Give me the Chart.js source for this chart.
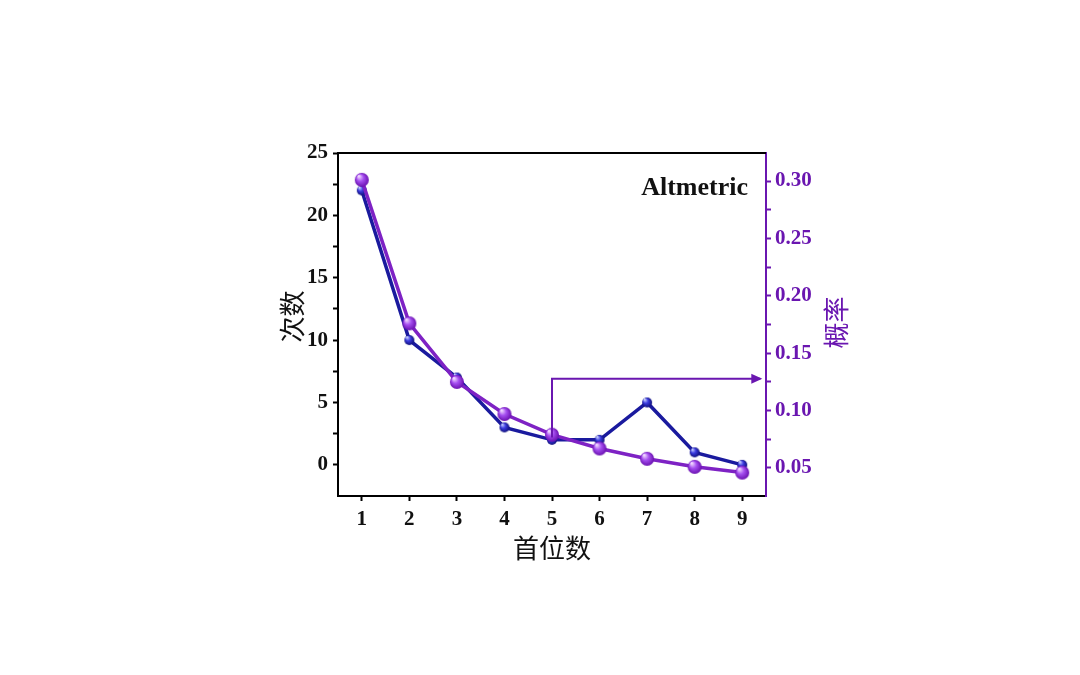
<!DOCTYPE html>
<html>
<head>
<meta charset="utf-8">
<script src="https://cdn.jsdelivr.net/npm/chart.js@4.4.1/dist/chart.umd.min.js"></script>
<style>
    html, body { margin: 0; padding: 0; background: #fff; }
    #wrap { width: 1080px; height: 675px; position: relative; }
</style>
</head>
<body>
<div id="wrap"><canvas id="benford-chart"></canvas></div>
<script>
// data
const digits = [1, 2, 3, 4, 5, 6, 7, 8, 9];
const counts = [22, 10, 7, 3, 2, 2, 5, 1, 0];
const probs = [0.301, 0.176, 0.125, 0.097, 0.079, 0.067, 0.058, 0.051, 0.046];
const yTicks = [0, 2.5, 5, 7.5, 10, 12.5, 15, 17.5, 20, 22.5, 25];
const y2Ticks = [0.05, 0.075, 0.10, 0.125, 0.15, 0.175, 0.20, 0.225, 0.25, 0.275, 0.30];
// arrow pointing at the right axis, in (digit, count) units
const arrowPath = [[5, 2.2], [5, 6.9], [9.38, 6.9]];
const panelLabel = 'Altmetric';
const xTitle = '首位数';
const yTitle = '次数';
const y2Title = '概率';

const BLUE = '#1a1a9e';
const PURPLE = '#7e22c4';
const PURPLE_AXIS = '#6a16b0';
const serif = '"Liberation Serif", "Times New Roman", serif';
const cjk = '"Noto Sans CJK SC", sans-serif';

function sphere(r, light, mid, dark) {
    const c = document.createElement('canvas');
    c.width = c.height = r * 2 + 2;
    const g = c.getContext('2d');
    const grad = g.createRadialGradient(r * 0.7, r * 0.6, r * 0.1, r + 1, r + 1, r);
    grad.addColorStop(0, light);
    grad.addColorStop(0.45, mid);
    grad.addColorStop(1, dark);
    g.fillStyle = grad;
    g.beginPath();
    g.arc(r + 1, r + 1, r, 0, Math.PI * 2);
    g.fill();
    return c;
}

const blueBall = sphere(5, '#c8d0ff', '#3a3ae0', '#10107a');
const purpleBall = sphere(7, '#f0d8ff', '#a64ff0', '#6a10b0');

const overlay = {
    id: 'overlay',
    afterDatasetsDraw(chart) {
        const ctx = chart.ctx;
        const area = chart.chartArea;
        const x = chart.scales.x, y = chart.scales.y;
        ctx.save();
        // top frame line
        ctx.strokeStyle = '#000';
        ctx.lineWidth = 2;
        ctx.beginPath();
        ctx.moveTo(area.left - 1, area.top);
        ctx.lineTo(area.right, area.top);
        ctx.stroke();

        // arrow
        ctx.strokeStyle = PURPLE_AXIS;
        ctx.lineWidth = 2;
        ctx.beginPath();
        arrowPath.forEach(function (p, i) {
            const px = x.getPixelForValue(p[0]);
            const py = y.getPixelForValue(p[1]);
            if (i === 0) ctx.moveTo(px, py); else ctx.lineTo(px, py);
        });
        ctx.stroke();
        const end = arrowPath[arrowPath.length - 1];
        const ex = x.getPixelForValue(end[0]);
        const ey = y.getPixelForValue(end[1]);
        ctx.fillStyle = PURPLE_AXIS;
        ctx.beginPath();
        ctx.moveTo(ex + 2, ey);
        ctx.lineTo(ex - 9, ey - 5);
        ctx.lineTo(ex - 9, ey + 5);
        ctx.closePath();
        ctx.fill();

        // panel label
        ctx.fillStyle = '#111';
        ctx.font = 'bold 26px ' + serif;
        ctx.textAlign = 'right';
        ctx.textBaseline = 'middle';
        ctx.fillText(panelLabel, area.right - 18, area.top + 35);

        // axis titles
        ctx.font = '26px ' + cjk;
        ctx.textAlign = 'center';
        ctx.fillStyle = '#111';
        ctx.fillText(xTitle, x.getPixelForValue(5), area.bottom + 52);

        ctx.save();
        ctx.translate(area.left - 46, (area.top + area.bottom) / 2 - 8);
        ctx.rotate(-Math.PI / 2);
        ctx.fillText(yTitle, 0, 0);
        ctx.restore();

        ctx.save();
        ctx.fillStyle = PURPLE_AXIS;
        ctx.translate(area.right + 70, (area.top + area.bottom) / 2 - 2);
        ctx.rotate(-Math.PI / 2);
        ctx.fillText(y2Title, 0, 0);
        ctx.restore();
        ctx.restore();
    }
};

document.addEventListener('DOMContentLoaded', function () {
    const ctx = document.getElementById('benford-chart').getContext('2d');
    const isMajor = function (v, step) {
        return Math.abs(v / step - Math.round(v / step)) < 1e-6;
    };

    new Chart(ctx, {
        type: 'line',
        data: {
            datasets: [{
                label: y2Title,
                data: digits.map(function (d, i) { return { x: d, y: probs[i] }; }),
                yAxisID: 'y2',
                borderColor: PURPLE,
                borderWidth: 3.5,
                pointStyle: purpleBall,
                tension: 0
            }, {
                label: yTitle,
                data: digits.map(function (d, i) { return { x: d, y: counts[i] }; }),
                yAxisID: 'y',
                borderColor: BLUE,
                borderWidth: 3.5,
                pointStyle: blueBall,
                tension: 0
            }]
        },
        options: {
            responsive: true,
            maintainAspectRatio: false,
            animation: false,
            layout: { padding: { left: 270, right: 240, top: 153, bottom: 119 } },
            plugins: { legend: { display: false }, tooltip: { enabled: false } },
            scales: {
                x: {
                    type: 'linear',
                    min: 0.5,
                    max: 9.5,
                    afterFit: function (s) { s.height = 60; },
                    afterBuildTicks: function (s) {
                        s.ticks = digits.map(function (v) { return { value: v }; });
                    },
                    border: { color: '#000', width: 2 },
                    grid: { drawOnChartArea: false, tickLength: 5, tickColor: '#000', tickWidth: 2 },
                    ticks: {
                        padding: 6,
                        color: '#111',
                        font: { family: serif, weight: 'bold', size: 21 }
                    }
                },
                y: {
                    position: 'left',
                    min: -2.5,
                    max: 25,
                    afterFit: function (s) { s.width = 68; },
                    afterBuildTicks: function (s) {
                        s.ticks = yTicks.map(function (v) { return { value: v }; });
                    },
                    border: { color: '#000', width: 2 },
                    grid: { drawOnChartArea: false, tickLength: 5, tickWidth: 2, tickColor: '#000' },
                    ticks: {
                        padding: 5,
                        color: '#111',
                        font: { family: serif, weight: 'bold', size: 21 },
                        callback: function (v) { return isMajor(v, 5) ? String(v) : ''; }
                    }
                },
                y2: {
                    position: 'right',
                    min: 0.0256,
                    max: 0.3244,
                    afterFit: function (s) { s.width = 74; },
                    afterBuildTicks: function (s) {
                        s.ticks = y2Ticks.map(function (v) { return { value: v }; });
                    },
                    border: { color: PURPLE_AXIS, width: 2 },
                    grid: { drawOnChartArea: false, tickLength: 5, tickWidth: 2, tickColor: PURPLE_AXIS },
                    ticks: {
                        padding: 4,
                        color: PURPLE_AXIS,
                        font: { family: serif, weight: 'bold', size: 21 },
                        callback: function (v) { return isMajor(v, 0.05) ? v.toFixed(2) : ''; }
                    }
                }
            }
        },
        plugins: [overlay]
    });
});
</script>
</body>
</html>
